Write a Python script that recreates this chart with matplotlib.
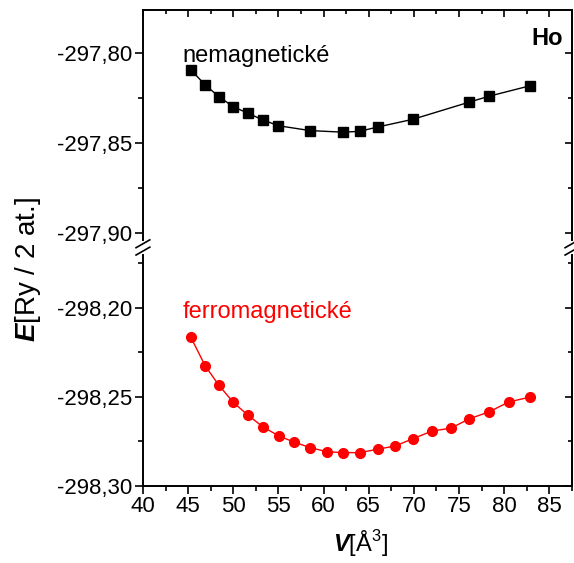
import numpy as np
import matplotlib.pyplot as plt
from matplotlib.ticker import MultipleLocator, FuncFormatter

plt.rcParams['font.family'] = ['Liberation Sans', 'DejaVu Sans']
plt.rcParams['mathtext.fontset'] = 'custom'
plt.rcParams['mathtext.rm'] = 'Liberation Sans'
plt.rcParams['mathtext.bf'] = 'Liberation Sans:bold:italic'

# nemagneticke (nemagnetický stav)
V_nm = [45.3, 46.9, 48.4, 50.0, 51.6, 53.3, 55.0, 58.5, 62.2, 64.0, 66.0, 69.9, 76.1, 78.3, 82.9]
E_nm = [-297.8093, -297.8177, -297.8242, -297.8298, -297.8334, -297.8372, -297.8404, -297.8431,
        -297.8440, -297.8435, -297.8411, -297.8368, -297.8273, -297.8240, -297.8181]

# ferromagneticke
V_fm = [45.3, 46.9, 48.4, 50.0, 51.6, 53.3, 55.1, 56.7, 58.5, 60.4, 62.2, 64.0, 66.0, 67.9,
        69.9, 72.0, 74.1, 76.1, 78.3, 80.5, 82.9]
E_fm = [-298.2166, -298.2327, -298.2435, -298.2531, -298.2602, -298.2669, -298.2721, -298.2753,
        -298.2785, -298.2808, -298.2813, -298.2813, -298.2794, -298.2776, -298.2735, -298.2692,
        -298.2676, -298.2624, -298.2585, -298.2529, -298.2501]

fs = 16
fig = plt.figure(figsize=(5.74, 5.63), dpi=100)
ax1 = fig.add_axes([0.249, 0.5737, 0.7475, 0.4085])
ax2 = fig.add_axes([0.249, 0.1368, 0.7475, 0.4103])

ax1.plot(V_nm, E_nm, '-s', color='black', lw=1, ms=6.5)
ax2.plot(V_fm, E_fm, '-o', color='red', lw=1, ms=7)

ax1.set_ylim(-297.904, -297.776)
ax2.set_ylim(-298.30, -298.1705)
comma = FuncFormatter(lambda v, p: f'{v:.2f}'.replace('.', ','))
for ax in (ax1, ax2):
    ax.set_xlim(40, 87.5)
    ax.xaxis.set_major_locator(MultipleLocator(5))
    ax.xaxis.set_minor_locator(MultipleLocator(2.5))
    ax.yaxis.set_major_locator(MultipleLocator(0.05))
    ax.yaxis.set_minor_locator(MultipleLocator(0.025))
    ax.yaxis.set_major_formatter(comma)
    ax.tick_params(axis='y', which='both', direction='out', left=True, right=False, labelsize=fs, pad=2)
    ax.tick_params(axis='y', which='major', length=6, width=1.2)
    ax.tick_params(axis='y', which='minor', length=3.5, width=1.2)
    for s in ax.spines.values():
        s.set_linewidth(1.4)

ax1.spines['bottom'].set_visible(False)
ax2.spines['top'].set_visible(False)
ax1.tick_params(axis='x', which='both', bottom=False, labelbottom=False, top=True, direction='in', width=1.2)
ax1.tick_params(axis='x', which='major', length=5)
ax1.tick_params(axis='x', which='minor', length=3)
ax2.tick_params(axis='x', which='both', bottom=True, top=False, direction='out', labelsize=fs, width=1.2, pad=1)
ax2.tick_params(axis='x', which='major', length=6)
ax2.tick_params(axis='x', which='minor', length=3.5)

# vpravo ticky dovnitr
for ax in (ax1, ax2):
    sec = ax.secondary_yaxis('right')
    sec.yaxis.set_major_locator(MultipleLocator(0.05))
    sec.yaxis.set_minor_locator(MultipleLocator(0.025))
    sec.tick_params(which='both', direction='in', labelright=False, width=1.2)
    sec.tick_params(which='major', length=5)
    sec.tick_params(which='minor', length=3)
    sec.spines['right'].set_linewidth(1.4)

# znacky preruseni osy
for xf in (0.249, 0.9965):
    for yc in (0.567, 0.554):
        fig.add_artist(plt.Line2D([xf - 0.012, xf + 0.012], [yc - 0.007, yc + 0.007],
                                  color='black', lw=1.2, transform=fig.transFigure))

ax1.text(0.0925, 0.775, 'nemagnetické', transform=ax1.transAxes, fontsize=17, color='black', va='baseline')
ax2.text(0.093, 0.726, 'ferromagnetické', transform=ax2.transAxes, fontsize=17, color='red', va='baseline')
ax1.text(0.978, 0.848, 'Ho', transform=ax1.transAxes, fontsize=17, fontweight='bold', ha='right', va='baseline')

fig.text(0.049, 0.522, r'$\mathbf{E}$[Ry / 2 at.]', rotation=90, fontsize=20, ha='center', va='center')
fig.text(0.629, 0.035, r'$\mathbf{V}$[Å$^3$]', fontsize=17, ha='center', va='center')

plt.savefig('out.png', dpi=100)
